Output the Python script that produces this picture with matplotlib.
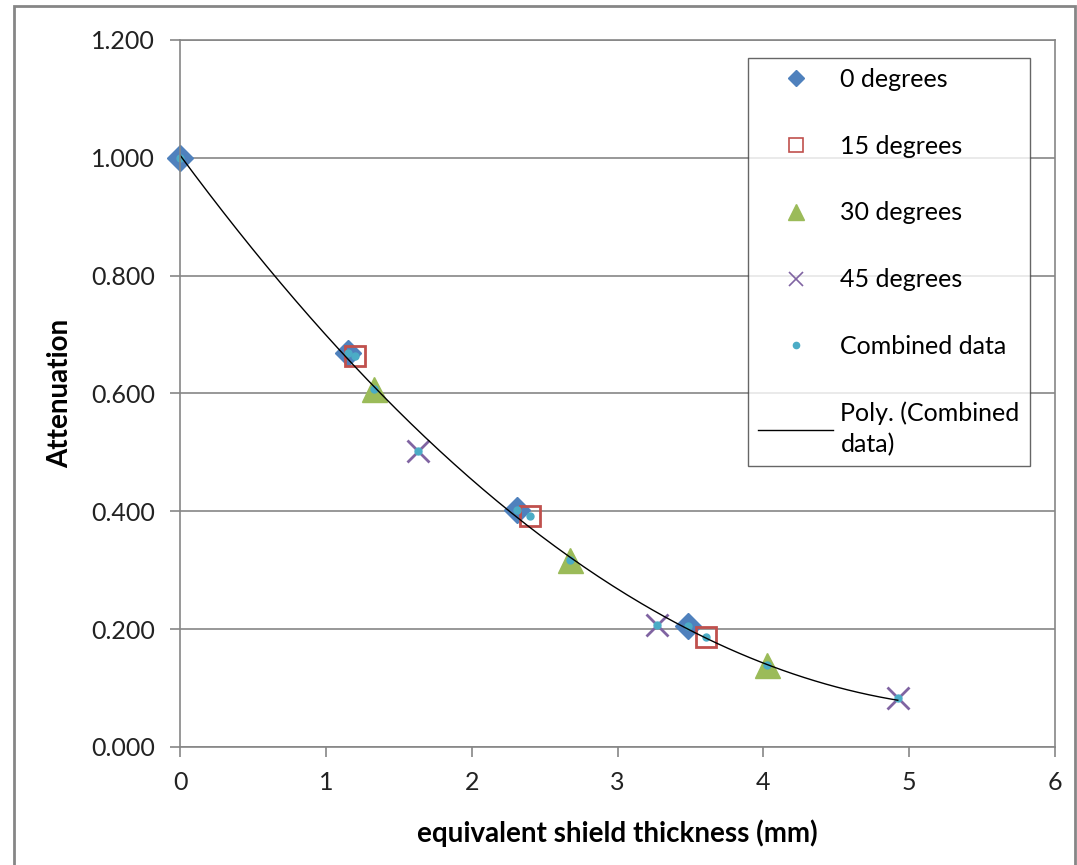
import numpy as np
import matplotlib
matplotlib.use("Agg")
import matplotlib.pyplot as plt
from matplotlib.patches import Rectangle

plt.rcParams['font.family'] = ['Lato', 'DejaVu Sans']

# medidas por ângulo: espessura equivalente (mm) e atenuação
x_0 = [0.0, 1.154, 2.31, 3.48]
y_0 = [1.000, 0.669, 0.402, 0.205]
x_15 = [1.20, 2.40, 3.605]
y_15 = [0.663, 0.392, 0.187]
x_30 = [1.33, 2.675, 4.024]
y_30 = [0.608, 0.318, 0.139]
x_45 = [1.632, 3.274, 4.922]
y_45 = [0.502, 0.207, 0.0825]

x_tick_vals = [0, 1, 2, 3, 4, 5, 6]
y_tick_vals = [0.0, 0.2, 0.4, 0.6, 0.8, 1.0, 1.2]

# todos os pontos juntos
x_comb = np.array(x_0 + x_15 + x_30 + x_45)
y_comb = np.array(y_0 + y_15 + y_30 + y_45)

fig = plt.figure(figsize=(10.77, 8.65), dpi=100)
ax = fig.add_axes([180 / 1077, 1 - 747 / 865, 875 / 1077, 707 / 865])

cinza = '#868686'

ax.plot(x_0, y_0, 'D', color='#4F81BD', markersize=13, linestyle='none',
        clip_on=False, label='0 degrees')
ax.plot(x_15, y_15, 's', markerfacecolor='none', markeredgecolor='#C0504D',
        markeredgewidth=2, markersize=15, linestyle='none', label='15 degrees')
ax.plot(x_30, y_30, '^', color='#9BBB59', markersize=18, linestyle='none', label='30 degrees')
ax.plot(x_45, y_45, 'x', color='#8064A2', markeredgewidth=2, markersize=16,
        linestyle='none', label='45 degrees')
ax.plot(x_comb, y_comb, 'o', color='#4BACC6', markersize=5, linestyle='none',
        clip_on=False, label='Combined data')

# ajuste polinomial (ordem 2) dos dados combinados
coef = np.polyfit(x_comb, y_comb, 2)
xs = np.linspace(x_comb.min(), x_comb.max(), 200)
ax.plot(xs, np.polyval(coef, xs), color='black', linewidth=1.0,
        label='Poly. (Combined\ndata)')

ax.set_xlim(0, 6)
ax.set_ylim(0, 1.2)
ax.set_xticks(x_tick_vals)
ax.set_yticks(y_tick_vals)
ax.set_yticklabels([f'{v:.3f}' for v in y_tick_vals])
ax.grid(axis='y', color=cinza, linewidth=1.2)
ax.set_axisbelow(True)
for s in ax.spines.values():
    s.set_color(cinza)
    s.set_linewidth(1.2)
ax.tick_params(axis='both', direction='out', length=7, width=1.2, color=cinza,
               labelsize=18, labelcolor='#222222')
ax.tick_params(axis='y', pad=11)
ax.tick_params(axis='x', pad=10)

ax.set_xlabel('equivalent shield thickness (mm)', fontsize=20, fontweight='bold')
ax.set_ylabel('Attenuation', fontsize=20, fontweight='bold')
ax.xaxis.set_label_coords(0.5, -0.103)
ax.yaxis.set_label_coords(-0.122, 0.5)

leg = ax.legend(loc='upper left', bbox_to_anchor=(748 / 1077, 1 - 58 / 865),
                bbox_transform=fig.transFigure, fontsize=18, frameon=True,
                fancybox=False, borderaxespad=0, borderpad=0.4,
                labelspacing=1.75, handlelength=3.0, handletextpad=0.3)
leg.get_frame().set_edgecolor('#404040')
leg.get_frame().set_linewidth(1.0)
leg.get_texts()[-1].set_linespacing(1.4)

# marcadores menores na legenda
tam_leg = [8, 10, 11, 10, 4.5]
for h, t in zip(leg.legend_handles[:5], tam_leg):
    h.set_markersize(t)
    if h.get_marker() in ('s', 'x'):
        h.set_markeredgewidth(1.2)

# moldura externa do gráfico
fig.patches.append(Rectangle((14 / 1077, -0.1), 1061 / 1077, 1.1 - 6 / 865,
                             transform=fig.transFigure, fill=False,
                             edgecolor=cinza, linewidth=2))

fig.savefig('out.png', dpi=100)
